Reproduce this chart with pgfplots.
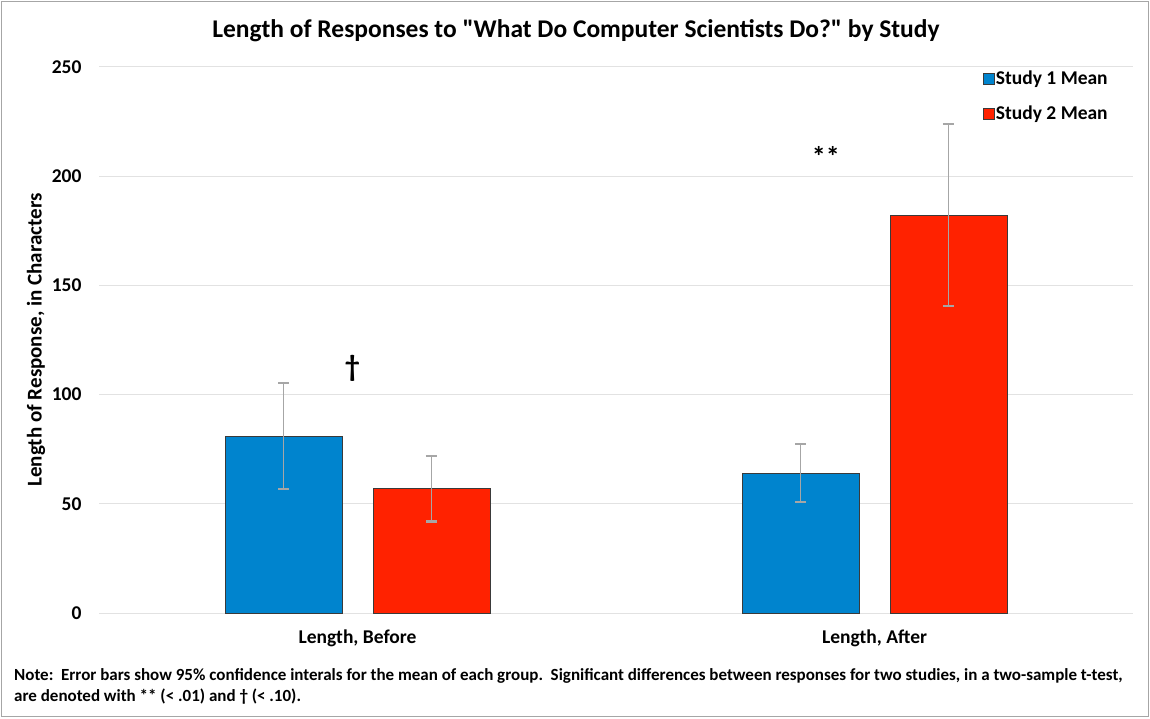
\documentclass[border=0pt]{standalone}
\usepackage{fontspec}
\setmainfont{Carlito}[Ligatures=TeXOff]
\usepackage{pgfplots}
\pgfplotsset{compat=1.18}
\definecolor{sblue}{HTML}{0084CE}
\definecolor{sred}{HTML}{FF2200}
\definecolor{errgray}{HTML}{A6A6A6}
\definecolor{gridgray}{HTML}{E2E2E2}
\definecolor{edge}{HTML}{3A3A3A}
\begin{document}
\begin{tikzpicture}[x=1pt,y=1pt]
\useasboundingbox (0,0) rectangle (1150,718);
\fill[white] (0,0) rectangle (1150,718);
\draw[gray!70, line width=1.5pt] (1.5,1.5) rectangle (1148.5,716.5);
\begin{axis}[
  at={(99pt,105pt)}, anchor=south west, scale only axis,
  width=1034pt, height=546pt,
  xmin=-0.5, xmax=1.5, ymin=0, ymax=250,
  ybar, bar width=0.226,
  xtick={0,1}, xticklabels={{Length, Before},{Length, After}},
  ytick={0,50,...,250},
  axis line style={draw=none},
  ymajorgrids, grid style={gridgray, line width=1pt},
  major tick length=0pt,
  tick label style={font=\fontsize{19.5}{21}\selectfont\bfseries},
  /pgf/number format/assume math mode=true,
  xticklabel style={yshift=-13pt},
  yticklabel style={xshift=-14pt},
  legend style={at={(axis description cs:0.855,0.995)}, anchor=north west,
    draw=none, fill=none, inner sep=0pt,
    font=\fontsize{19.5}{21}\selectfont\bfseries, row sep=18pt,
    nodes={inner sep=1pt}},
  legend image code/.code={\draw[#1, draw=edge, line width=0.6pt] (0pt,-5.5pt) rectangle (11pt,5.5pt);},
  legend cell align=left,
]
\addplot+[bar shift=-0.143, fill=sblue, draw=edge, line width=0.6pt,
  error bars/.cd, y dir=both, y explicit,
  error bar style={errgray, line width=1.5pt},
  error mark options={errgray, line width=2.5pt, mark size=5.5pt, rotate=90}]
  coordinates {(0,81) +- (0,24.2) (1,64.1) +- (0,13.3)};
\addlegendentry{Study 1 Mean}
\addplot+[bar shift=0.143, fill=sred, draw=edge, line width=0.6pt,
  error bars/.cd, y dir=both, y explicit,
  error bar style={errgray, line width=1.5pt},
  error mark options={errgray, line width=2.5pt, mark size=5.5pt, rotate=90}]
  coordinates {(0,56.9) +- (0,14.9) (1,182.2) +- (0,41.6)};
\addlegendentry{Study 2 Mean}
\node[font=\fontsize{30}{30}\selectfont\bfseries] at (axis cs:-0.01,112) {†};
\node[font=\fontsize{28}{28}\selectfont\bfseries] at (axis cs:0.906,209) {**};
\end{axis}
\node[font=\fontsize{25.5}{28}\selectfont\bfseries] at (576,687) {Length of Responses to "What Do Computer Scientists Do?" by Study};
\node[font=\fontsize{21}{23}\selectfont\bfseries, rotate=90] at (36,378) {Length of Response, in Characters};
\node[font=\fontsize{17}{19}\selectfont\bfseries, anchor=west, inner sep=0pt] at (14,42) {Note:\ \ Error bars show 95\% confidence interals for the mean of each group.\ \ Significant differences between responses for two studies, in a two-sample t-test,};
\node[font=\fontsize{17}{19}\selectfont\bfseries, anchor=west, inner sep=0pt] at (14,21) {are denoted with ** (< .01) and † (< .10).};
\end{tikzpicture}
\end{document}
